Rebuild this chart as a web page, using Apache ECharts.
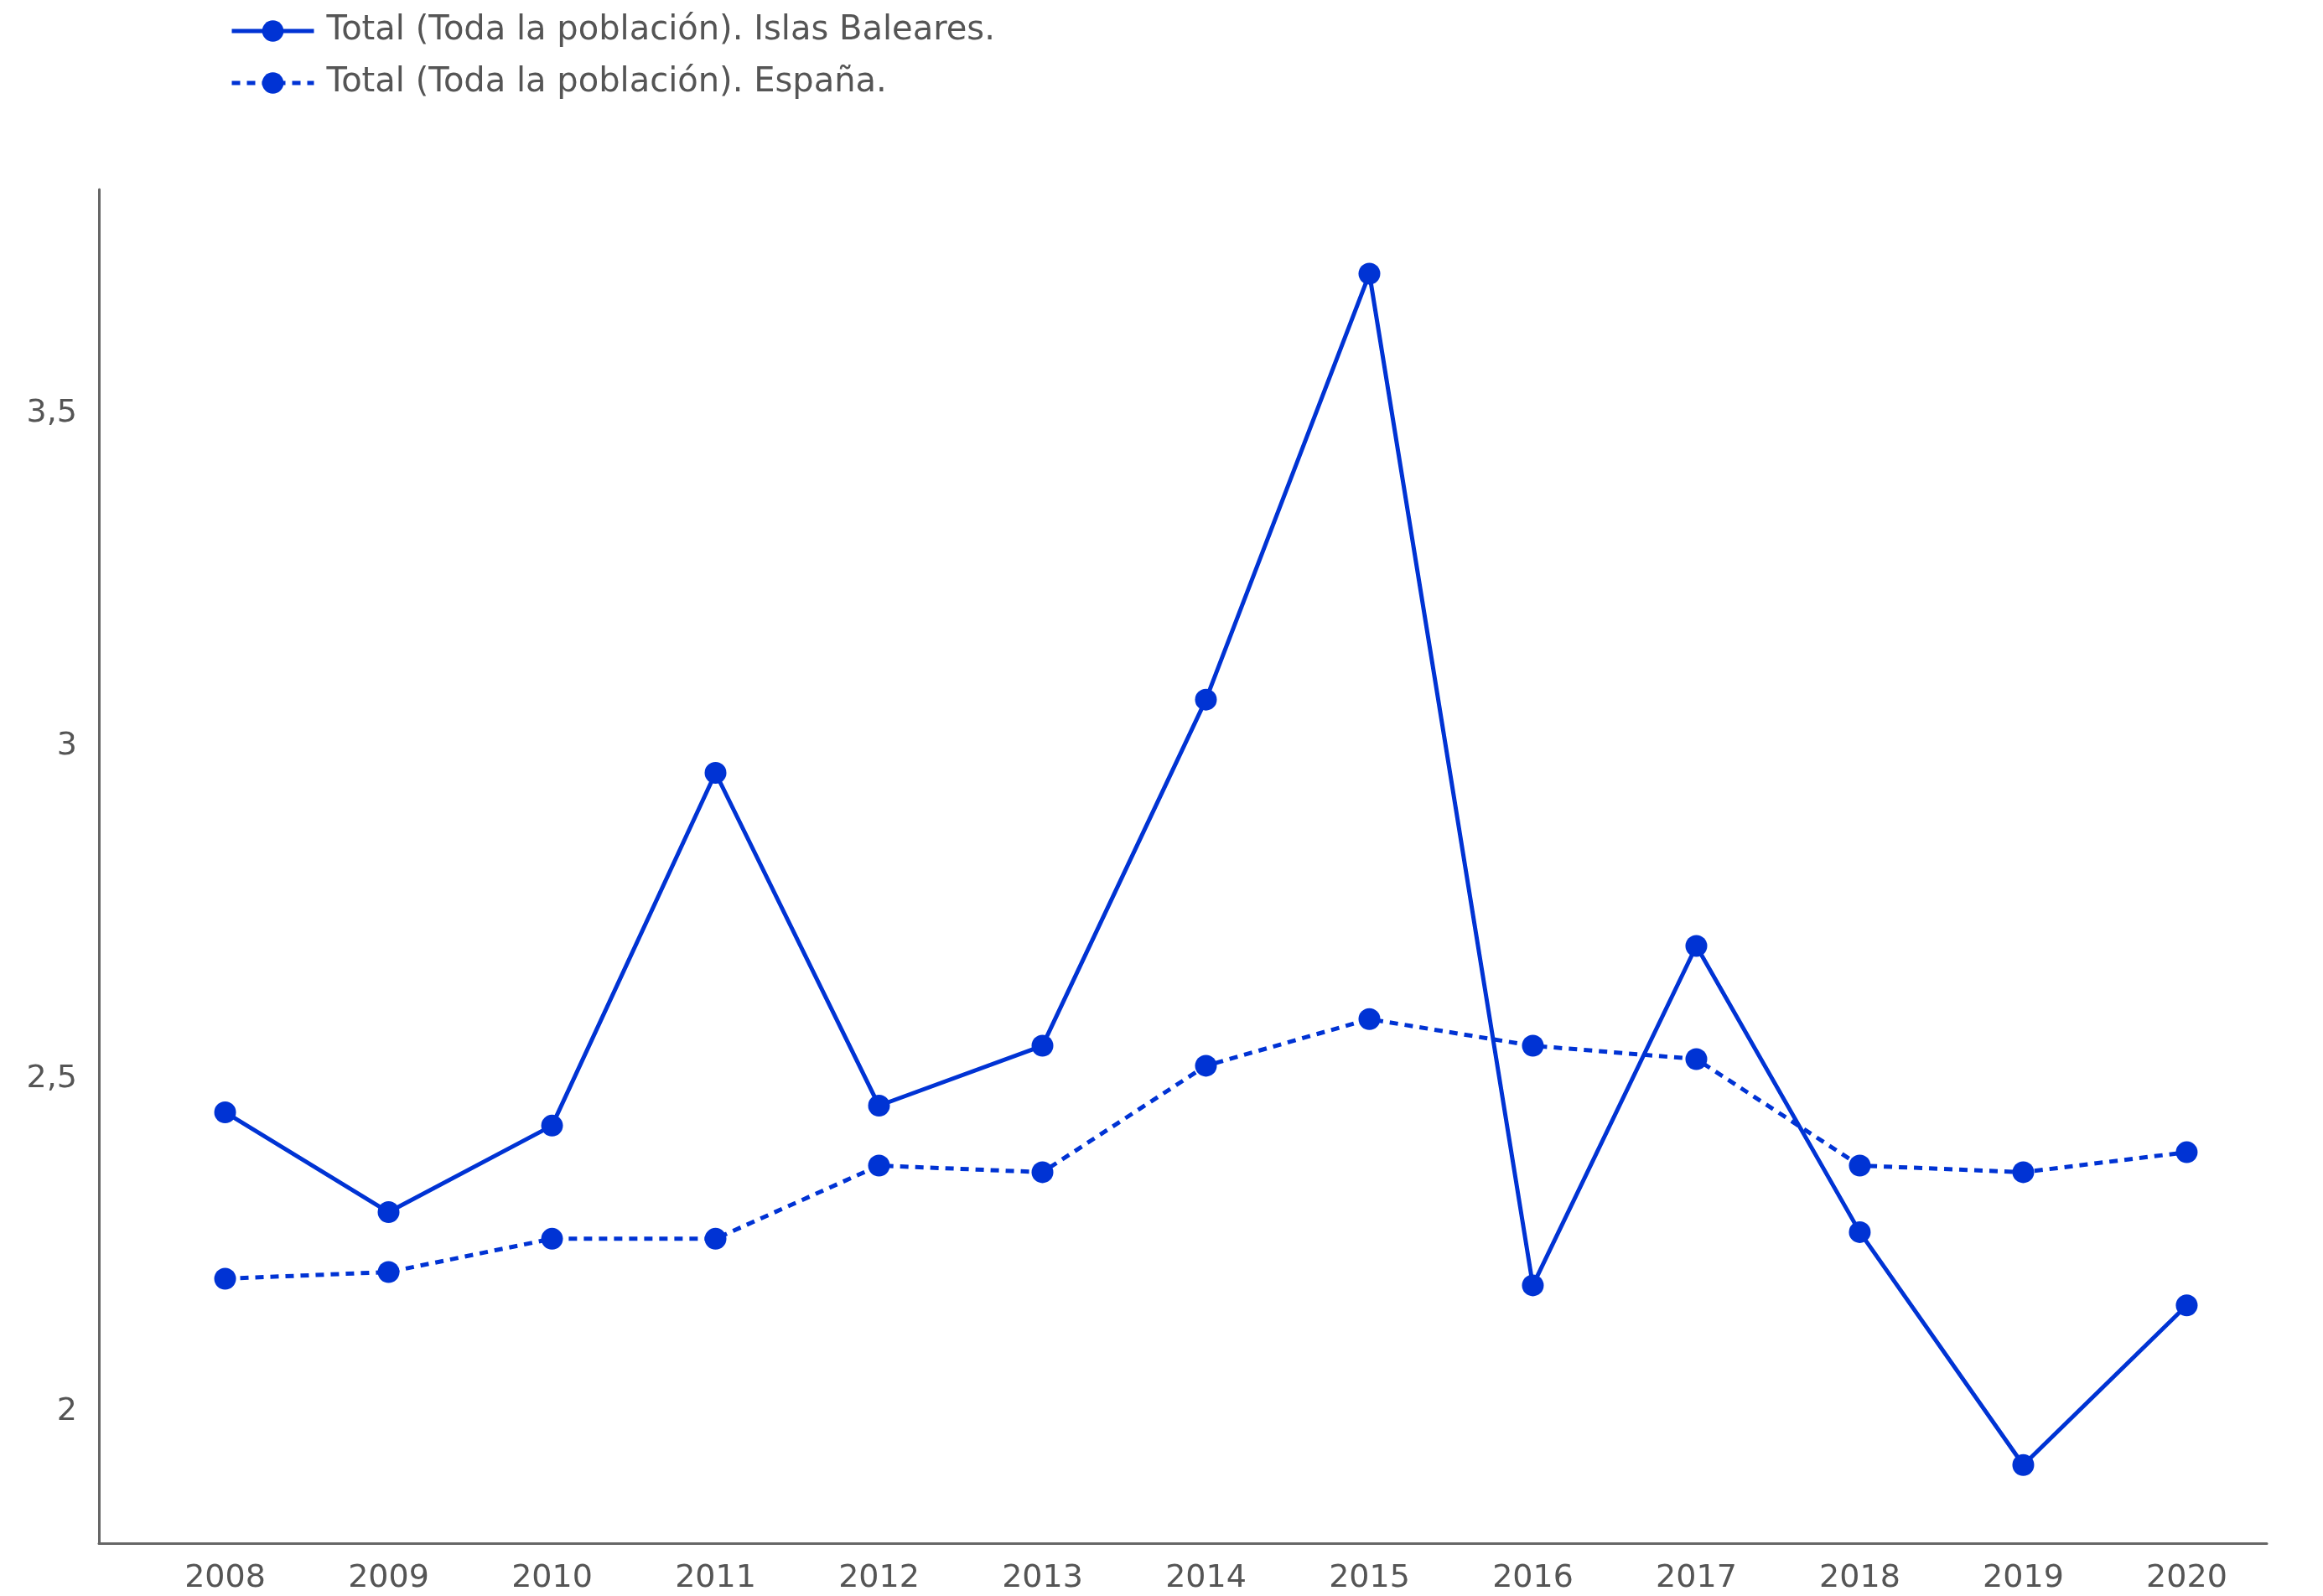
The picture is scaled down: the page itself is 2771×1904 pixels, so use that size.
<!DOCTYPE html>
<html>
<head>
<meta charset="utf-8">
<script src="https://cdn.jsdelivr.net/npm/echarts@6/dist/echarts.min.js"></script>
<style>
    html, body { margin: 0; padding: 0; background: #fff; }
    #chart { width: 2771px; height: 1904px; }
</style>
</head>
<body>
<div id="chart"></div>
<script>
const years      = [2008, 2009, 2010, 2011, 2012, 2013, 2014, 2015, 2016, 2017, 2018, 2019, 2020];
const baleares   = [2.45, 2.30, 2.43, 2.96, 2.46, 2.55, 3.07, 3.71, 2.19, 2.70, 2.27, 1.92, 2.16];
const espana     = [2.20, 2.21, 2.26, 2.26, 2.37, 2.36, 2.52, 2.59, 2.55, 2.53, 2.37, 2.36, 2.39];
const yTicks     = [2, 2.5, 3, 3.5];
const seriesNames = ['Total (Toda la población). Islas Baleares.', 'Total (Toda la población). España.'];

const blue = '#0033D4';
const font = 'DejaVu Sans';

const pairs = (values) => years.map((y, i) => [y, values[i]]);

const chart = echarts.init(document.getElementById('chart'));

const option = {
    animation: false,
    backgroundColor: '#fff',
    textStyle: { fontFamily: font },
    legend: {
        orient: 'vertical',
        left: 269,
        top: 12,
        itemWidth: 98,
        itemHeight: 32,
        itemGap: 22,
        lineStyle: { width: 5 },
        textStyle: { fontFamily: font, fontSize: 40, lineHeight: 40, color: '#555', padding: [0, 0, 0, 10] },
        data: seriesNames
    },
    grid: { left: 118, right: 67, top: 226, bottom: 63, containLabel: false },
    xAxis: {
        type: 'value',
        min: 2007.228,
        max: 2020.49,
        splitLine: { show: false },
        axisTick: { show: false },
        axisLine: { show: true, lineStyle: { color: '#666', width: 3 } },
        axisLabel: {
            customValues: years,
            margin: 23,
            fontFamily: font,
            fontSize: 38,
            color: '#555',
            formatter: v => String(v)
        }
    },
    yAxis: {
        type: 'value',
        min: 1.8026,
        max: 3.8366,
        splitLine: { show: false },
        axisTick: { show: false },
        axisLine: { show: true, lineStyle: { color: '#666', width: 3 } },
        axisLabel: {
            customValues: yTicks,
            margin: 26,
            fontFamily: font,
            fontSize: 38,
            color: '#555',
            formatter: v => String(v).replace('.', ',')
        }
    },
    series: [
        {
            name: seriesNames[0],
            type: 'line',
            data: pairs(baleares),
            symbol: 'circle',
            symbolSize: 26,
            itemStyle: { color: blue },
            lineStyle: { color: blue, width: 5, type: 'solid' }
        },
        {
            name: seriesNames[1],
            type: 'line',
            data: pairs(espana),
            symbol: 'circle',
            symbolSize: 26,
            itemStyle: { color: blue },
            lineStyle: { color: blue, width: 5, type: [10, 8] }
        }
    ]
};

chart.setOption(option);
</script>
</body>
</html>
